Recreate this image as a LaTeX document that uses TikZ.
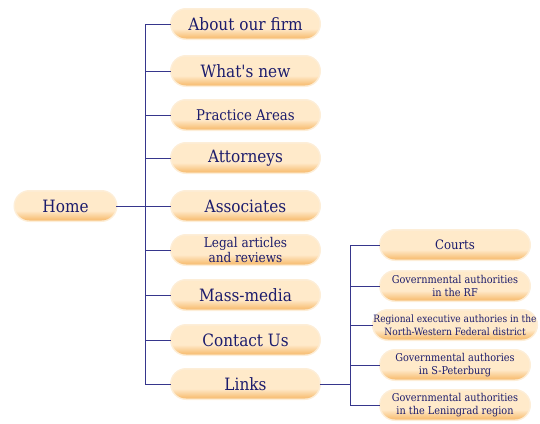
\documentclass[tikz,border=0pt]{standalone}
\usepackage{fontspec}
\usepackage{tikz}
\usetikzlibrary{calc}

\newfontfamily\btnfont{DejaVu Serif Condensed}

\definecolor{navy}{HTML}{1C1C6C}
\definecolor{wire}{HTML}{36368C}
\definecolor{btnlight}{HTML}{FFEACA}
\definecolor{btndark}{HTML}{F8C27C}
\definecolor{btnglow}{HTML}{FDEED8}

\pgfdeclareverticalshading{btnshade}{100bp}{color(0bp)=(btndark); color(28bp)=(btndark);
    color(42bp)=(btnlight); color(100bp)=(btnlight)}

\begin{document}
\begin{tikzpicture}[x=1pt, y=-1pt,
    btn/.style={rounded corners=14.5pt, minimum height=29pt, inner sep=0pt,
        align=center, text=navy, shading=btnshade,
        preaction={draw=btnglow, line width=3pt}},
    mainbtn/.style={btn, minimum width=148pt, font=\btnfont\fontsize{17}{19}\selectfont},
    subbtn/.style={btn, minimum width=149pt, font=\btnfont\fontsize{10.8}{13}\selectfont},
    wires/.style={draw=wire, line width=1pt}]

    \useasboundingbox (0,0) rectangle (540,423);

    \coordinate (trunk) at (145,0);
    \coordinate (subtrunk) at (350,0);

    \node[mainbtn, minimum width=101pt] (home) at (65.5,206) {Home};

    \node[mainbtn] (about) at (245.5,24) {About our firm};
    \node[mainbtn] (news) at (245.5,71) {What's new};
    \node[mainbtn, font=\btnfont\fontsize{14.8}{17}\selectfont] (practice) at (245.5,115) {Practice Areas};
    \node[mainbtn] (attorneys) at (245.5,158) {Attorneys};
    \node[mainbtn] (associates) at (245.5,206) {Associates};
    \node[mainbtn, font=\btnfont\fontsize{13.4}{15}\selectfont] (legal) at (245.5,250) {Legal articles\\and reviews};
    \node[mainbtn] (media) at (245.5,295) {Mass-media};
    \node[mainbtn] (contact) at (245.5,340) {Contact Us};
    \node[mainbtn] (links) at (245.5,384) {Links};

    \node[subbtn, font=\btnfont\fontsize{13}{15}\selectfont] (courts) at (455,245) {Courts};
    \node[subbtn] (govrf) at (455,286) {Governmental authorities\\in the RF};
    \node[subbtn, font=\btnfont\fontsize{10.1}{13}\selectfont] (regional) at (455,325) {Regional executive authories in the\\North-Western Federal district};
    \node[subbtn] (spb) at (455,365) {Governmental authories\\in S-Peterburg};
    \node[subbtn] (lenobl) at (455,405) {Governmental authorities\\in the Leningrad region};

    % main menu
    \draw[wires] (home.east) -- (home.east -| trunk);
    \draw[wires] (about.west -| trunk) -- (links.west -| trunk);
    \foreach \item in {about, news, practice, attorneys, associates, legal, media, contact, links}
        \draw[wires] (\item.west -| trunk) -- (\item.west);

    % links submenu
    \draw[wires] (links.east) -- (links.east -| subtrunk);
    \draw[wires] (courts.west -| subtrunk) -- (lenobl.west -| subtrunk);
    \foreach \item in {courts, govrf, regional, spb, lenobl}
        \draw[wires] (\item.west -| subtrunk) -- (\item.west);
\end{tikzpicture}
\end{document}
